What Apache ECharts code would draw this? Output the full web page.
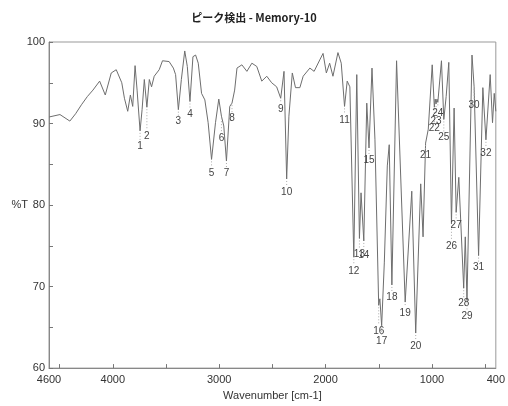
<!DOCTYPE html>
<html lang="ja">
<head>
  <meta charset="UTF-8">
  <title>ピーク検出 - Memory-10</title>
  <script src="https://cdn.jsdelivr.net/npm/echarts@6/dist/echarts.min.js"></script>
  <style>
    html, body { margin: 0; padding: 0; background: #fff; }
  </style>
</head>
<body>
<div id="main" style="width:508px;height:406px"></div>
<script>
  // spectrum
  var wavenumber = [4600,4590,4497,4404,4350,4295,4240,4187,4124,4071,4015,3968,3916,3891,3860,3835,3813,3791,3772,3744,
    3725,3704,3680,3657,3636,3611,3564,3533,3471,3431,3410,3384,3356,3324,3300,3275,3247,3222,3197,3166,
    3135,3104,3072,3035,3004,2979,2957,2932,2901,2880,2855,2833,2787,2740,2693,2647,2600,2553,2507,2460,
    2422,2391,2366,2345,2313,2283,2242,2211,2148,2108,2055,2024,1993,1962,1931,1884,1853,1822,1797,1772,
    1735,1707,1682,1667,1641,1613,1592,1564,1536,1501,1490,1473,1448,1420,1402,1377,1333,1252,1190,1153,
    1106,1084,1060,1035,998,978,970,962,953,945,911,889,867,842,817,792,773,748,702,687,
    671,624,604,590,562,522,493,453,431,415,400];
  var transmittance = [90.8,90.9,91.1,90.3,91.2,92.3,93.3,94.1,95.2,93.5,96.2,96.6,95.0,93.1,91.5,93.5,92.1,97.1,94.1,89.1,
    91.7,95.4,92.0,95.4,94.5,95.8,96.6,97.7,97.6,96.8,96.0,91.7,95.4,98.9,97.0,92.7,98.2,98.4,97.4,93.7,
    92.9,90.1,85.6,90.1,93.0,90.9,89.7,85.4,92.1,92.5,94.1,96.8,97.2,96.4,97.4,97.0,95.2,95.8,95.0,94.5,
    93.1,96.4,83.2,90.9,96.2,94.4,94.4,95.8,96.8,96.4,97.8,98.6,96.2,97.4,95.8,98.7,97.4,92.1,95.2,94.5,
    73.6,96.0,75.9,81.5,75.6,92.5,87.0,96.8,88.0,67.7,68.5,65.2,73.0,84.8,87.4,70.2,97.7,68.1,81.7,64.3,
    82.6,76.1,87.6,89.3,97.2,92.0,93.0,92.4,93.0,92.6,97.7,90.5,93.3,97.5,77.7,91.9,79.1,83.4,69.8,76.1,
    68.3,98.4,94.5,94.5,73.8,94.4,88.0,96.0,90.1,93.7,91.5];

  // detected peaks
  var peakWn = [3744,3680,3384,3275,3072,2979,2932,2880,2422,2366,1822,1735,1682,1641,1592,1501,
    1473,1377,1252,1153,1060,978,962,945,889,817,773,702,671,604,562,493];
  var peakT = [89.1,92.0,91.7,92.7,85.6,90.9,85.4,92.5,93.1,83.2,92.1,73.6,75.9,75.6,87.0,67.7,
    65.2,70.2,68.1,64.3,87.6,92.0,92.4,92.6,90.5,77.7,79.1,69.8,68.3,94.5,73.8,88.0];

  var xTicks = [500,1000,1500,2000,2500,3000,3500,4000,4500];
  var xLabels = [400,1000,2000,3000,4000,4600];
  var yTicks = [60,65,70,75,80,85,90,95,100];
  var yLabels = [60,70,80,90,100];

  // how far below the peak each number sits (px)
  var labelGap = [15,29,12,13,14,22,12,15,11,13,14,14,16,14,12,26,16,12,11,13,12,21,17,11,18,22,13,15,16,18,12,13];

  var spectrum = wavenumber.map(function (w, i) { return [w, transmittance[i]]; });
  var peaks = peakWn.map(function (w, i) { return [w, peakT[i], i + 1]; });

  var chart = echarts.init(document.getElementById('main'));
  var font = '"Liberation Sans", Arial, sans-serif';
  var axisText = { color: '#333', fontSize: 11, fontFamily: font };

  chart.setOption({
    animation: false,
    backgroundColor: '#fff',
    title: {
      text: 'ピーク検出 - Memory-10',
      left: 'center', top: 7,
      textStyle: { fontSize: 11, fontWeight: 'bold', color: '#222', fontFamily: '"Noto Sans CJK JP", sans-serif' }
    },
    grid: { left: 49, right: 9, top: 42, bottom: 36, show: true, borderColor: '#999', borderWidth: 1 },
    xAxis: {
      type: 'value', inverse: true, min: 400, max: 4600,
      name: 'Wavenumber [cm-1]', nameLocation: 'middle', nameGap: 20,
      nameTextStyle: axisText,
      axisLine: { lineStyle: { color: '#888' } },
      axisTick: { inside: true, length: 4, lineStyle: { color: '#777' }, customValues: xTicks },
      axisLabel: Object.assign({
        customValues: xLabels, margin: 6,
        formatter: function (v) { return String(v); }
      }, axisText),
      splitLine: { show: false }
    },
    yAxis: {
      type: 'value', min: 60, max: 100,
      name: '%T', nameLocation: 'middle', nameGap: 21, nameRotate: 0,
      nameMoveOverlap: false,
      nameTextStyle: axisText,
      axisLine: { show: true, lineStyle: { color: '#888' } },
      axisTick: { show: true, inside: true, length: 4, lineStyle: { color: '#777' }, customValues: yTicks },
      axisLabel: Object.assign({ customValues: yLabels, margin: 4 }, axisText),
      splitLine: { show: false }
    },
    series: [{
      type: 'line',
      data: spectrum,
      showSymbol: false,
      lineStyle: { color: '#6e6e6e', width: 1 },
      z: 3
    }, {
      type: 'custom',
      data: peaks,
      z: 4,
      renderItem: function (params, api) {
        var p = api.coord([api.value(0), api.value(1)]);
        var gap = labelGap[params.dataIndex];
        return {
          type: 'group',
          children: [{
            type: 'line',
            shape: { x1: p[0], y1: p[1] + 2, x2: p[0], y2: p[1] + gap - 6 },
            style: { stroke: '#aaa', lineWidth: 1, lineDash: [1, 2] }
          }, {
            type: 'text',
            style: {
              text: String(api.value(2)),
              x: p[0], y: p[1] + gap,
              align: 'center', verticalAlign: 'middle',
              fill: '#444', fontSize: 10, fontFamily: font
            }
          }]
        };
      }
    }]
  });
</script>
</body>
</html>
